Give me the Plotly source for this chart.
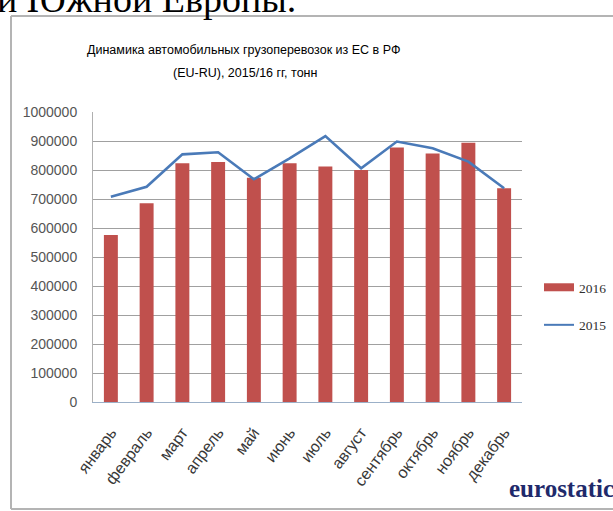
import plotly.graph_objects as go

months = ["январь", "февраль", "март", "апрель", "май", "июнь",
          "июль", "август", "сентябрь", "октябрь", "ноябрь", "декабрь"]
y2016 = [576000, 685000, 823000, 828000, 773000, 823000,
         812000, 800000, 878000, 857000, 894000, 737000]
y2015 = [708000, 742000, 854000, 861000, 768000, 840000,
         917000, 806000, 898000, 875000, 829000, 737000]
yticks = [0, 100000, 200000, 300000, 400000, 500000, 600000, 700000, 800000, 900000, 1000000]

W, H = 613, 511
RED = "#c0504d"
BLUE = "#4a7ab8"
FONT = "Liberation Sans, Arial, sans-serif"


def px_x(p):
    return p / W


def px_y(p):
    return 1 - p / H


fig = go.Figure()
fig.add_trace(go.Bar(x=months, y=y2016, name="2016", marker=dict(color=RED, line=dict(width=0)),
                     showlegend=False))
fig.add_trace(go.Scatter(x=months, y=y2015, name="2015", mode="lines",
                         line=dict(color=BLUE, width=2.6), showlegend=False))
# legend entries
fig.add_trace(go.Scatter(x=[None], y=[None], name="2016", mode="lines",
                         line=dict(color=RED, width=8), legendgroup="a"))
fig.add_trace(go.Scatter(x=[None], y=[None], name="2015", mode="lines",
                         line=dict(color=BLUE, width=2), legendgroup="b"))

fig.update_layout(
    template="none",
    width=W, height=H,
    margin=dict(l=0, r=0, t=0, b=0, pad=0),
    paper_bgcolor="white", plot_bgcolor="white",
    bargap=0.61,
    font=dict(family=FONT, size=13, color="#404040"),
    xaxis=dict(domain=[px_x(93), px_x(522)], showgrid=False, automargin=False,
               showline=True, linecolor="#9bb0c8", linewidth=1,
               tickangle=-53, ticks="", tickfont=dict(size=16, color="#383838"),
               ticklabelstandoff=14, fixedrange=True),
    yaxis=dict(domain=[px_y(402), px_y(112)], range=[0, 1000000], automargin=False,
               tickvals=yticks, tickformat="d",
               showgrid=True, gridcolor="#a0a0a0", gridwidth=1,
               showline=True, linecolor="#b0b0b0", linewidth=1,
               zeroline=False, ticks="", ticklabelstandoff=12,
               tickfont=dict(size=14, color="#555555"), fixedrange=True),
    legend=dict(x=px_x(539), y=px_y(272), xanchor="left", yanchor="top",
                traceorder="grouped", tracegroupgap=17, borderwidth=0,
                font=dict(size=13.5, color="#303030", family="Liberation Serif, serif"),
                bgcolor="rgba(0,0,0,0)", itemwidth=30),
    showlegend=True,
)

# chart frame (left, top, bottom edges; right edge is outside the picture)
frame = dict(color="#b4b4b4", width=2)
fig.add_shape(type="line", xref="paper", yref="paper",
              x0=px_x(11), x1=px_x(11), y0=px_y(509), y1=px_y(16), line=frame)
fig.add_shape(type="line", xref="paper", yref="paper",
              x0=px_x(11), x1=1, y0=px_y(16), y1=px_y(16), line=frame)
fig.add_shape(type="line", xref="paper", yref="paper",
              x0=px_x(11), x1=1, y0=px_y(509), y1=px_y(509), line=frame)

# title
fig.add_annotation(xref="paper", yref="paper", x=px_x(243), y=px_y(50),
                   text="Динамика автомобильных грузоперевозок из ЕС в РФ",
                   showarrow=False, xanchor="center", yanchor="middle",
                   font=dict(size=12.5, color="#000000", family=FONT))
fig.add_annotation(xref="paper", yref="paper", x=px_x(245), y=px_y(73),
                   text="(EU-RU), 2015/16 гг, тонн",
                   showarrow=False, xanchor="center", yanchor="middle",
                   font=dict(size=12.5, color="#000000", family=FONT))

# page text cut at top
fig.add_annotation(xref="paper", yref="paper", x=px_x(-5), y=px_y(22),
                   text="и Южной Европы.", showarrow=False,
                   xanchor="left", yanchor="bottom",
                   font=dict(size=38, color="black", family="Liberation Serif, serif"))

# logo
fig.add_annotation(xref="paper", yref="paper", x=px_x(507), y=px_y(504),
                   text="<b>eurostatica</b>", showarrow=False,
                   xanchor="left", yanchor="bottom",
                   font=dict(size=25, color="#1f2a6b", family="Liberation Serif, serif"))

fig.write_html("out.html", config={"displayModeBar": False},
               post_script="document.body.style.margin='0';document.body.style.overflow='hidden';")
